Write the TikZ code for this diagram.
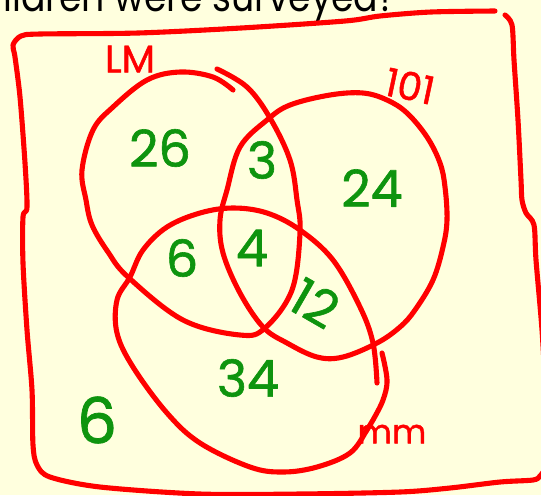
\documentclass[tikz,border=0pt]{standalone}
\usepackage{fontspec}
\usepackage{graphicx}
\setmainfont{Poppins}
\newfontfamily\handfont[FakeBold=1.2]{Poppins}
\usetikzlibrary{positioning}
\definecolor{paper}{RGB}{255,255,222}
\definecolor{penred}{RGB}{255,0,0}
\definecolor{inkgreen}{RGB}{14,148,14}

\begin{document}
\begin{tikzpicture}[x=0.02cm, y=-0.02cm, line cap=round, line join=round,
    pen/.style={draw=penred, line width=2.9pt},
    count/.style={text=inkgreen, inner sep=0pt, font=\handfont\fontsize{29}{29}\selectfont},
    setname/.style={text=penred, inner sep=0pt, font=\handfont\fontsize{22}{22}\selectfont}]
  \useasboundingbox (0,0) rectangle (541,495);
  \fill[paper] (0,0) rectangle (541,495);
  \clip (0,0) rectangle (541,495);

  \node[anchor=base west, inner sep=0pt, font=\fontsize{24}{24}\selectfont] (question) at (3,11) {\scalebox{0.86}[1]{ildren were surveyed?}};

  % frame
  \draw[pen] plot[smooth, tension=0.5] coordinates {(495,11) (431,12) (380,16) (345,21) (241,28) (138,33) (40,34) (21,36) (13,45) (15,57) (20,97) (25,163) (27,207) (23,217) (23,263) (27,330) (32,390) (33,445) (37,465) (50,477) (100,487) (200,494) (300,494) (400,492) (450,488) (500,482) (533,480) (540,476) (546,468)};
  \draw[pen] plot[smooth, tension=0.5] coordinates {(505,15) (512,25) (514,60) (518,120) (521,180) (522,200) (526,213) (534,225) (536,260) (542,330) (546,400)};

  % sets
  \draw[pen] plot[smooth, tension=0.6] coordinates {(217,69) (247,87) (270,118) (290,160) (297,200) (300,233) (292,290) (265,328) (240,335) (183,320) (128,277) (108,252) (92,225) (86,200) (82,170) (93,130) (113,107) (147,80) (180,72) (213,77) (233,90)};
  \draw[pen] plot[smooth cycle, tension=0.6] coordinates {(240,147) (267,120) (290,105) (330,95) (363,93) (387,100) (407,113) (427,137) (440,163) (445,187) (447,220) (443,247) (433,280) (415,310) (400,327) (377,343) (343,357) (317,357) (287,343) (263,327) (240,293) (223,253) (220,220) (227,190)};
  \draw[pen] plot[smooth, tension=0.6] coordinates {(382,353) (387,380) (383,400) (373,420) (367,430) (350,453) (317,467) (283,472) (250,467) (200,443) (167,413) (133,367) (117,333) (117,300) (130,277) (143,250) (167,227) (200,213) (233,208) (267,213) (300,230) (333,260) (360,307) (373,343) (377,383)};

  \node[setname] (lm) at (130,59) {LM};
  \node[setname, rotate=-12] (oneoone) at (410,86) {101};
  \node[setname, font=\handfont\fontsize{19}{19}\selectfont] (mm) at (392,434) {mm};

  \node[count] (onlyLM) at (160,148) {26};
  \node[count] (LMand101) at (262,160) {3};
  \node[count] (only101) at (372,188) {24};
  \node[count] (LMandmm) at (182,258) {6};
  \node[count] (allthree) at (252,248) {4};
  \node[count, rotate=-30] (mmand101) at (315,303) {12};
  \node[count] (onlymm) at (248,378) {34};
  \node[count, font=\handfont\fontsize{36}{36}\selectfont] (none) at (97,420) {6};
\end{tikzpicture}
\end{document}
